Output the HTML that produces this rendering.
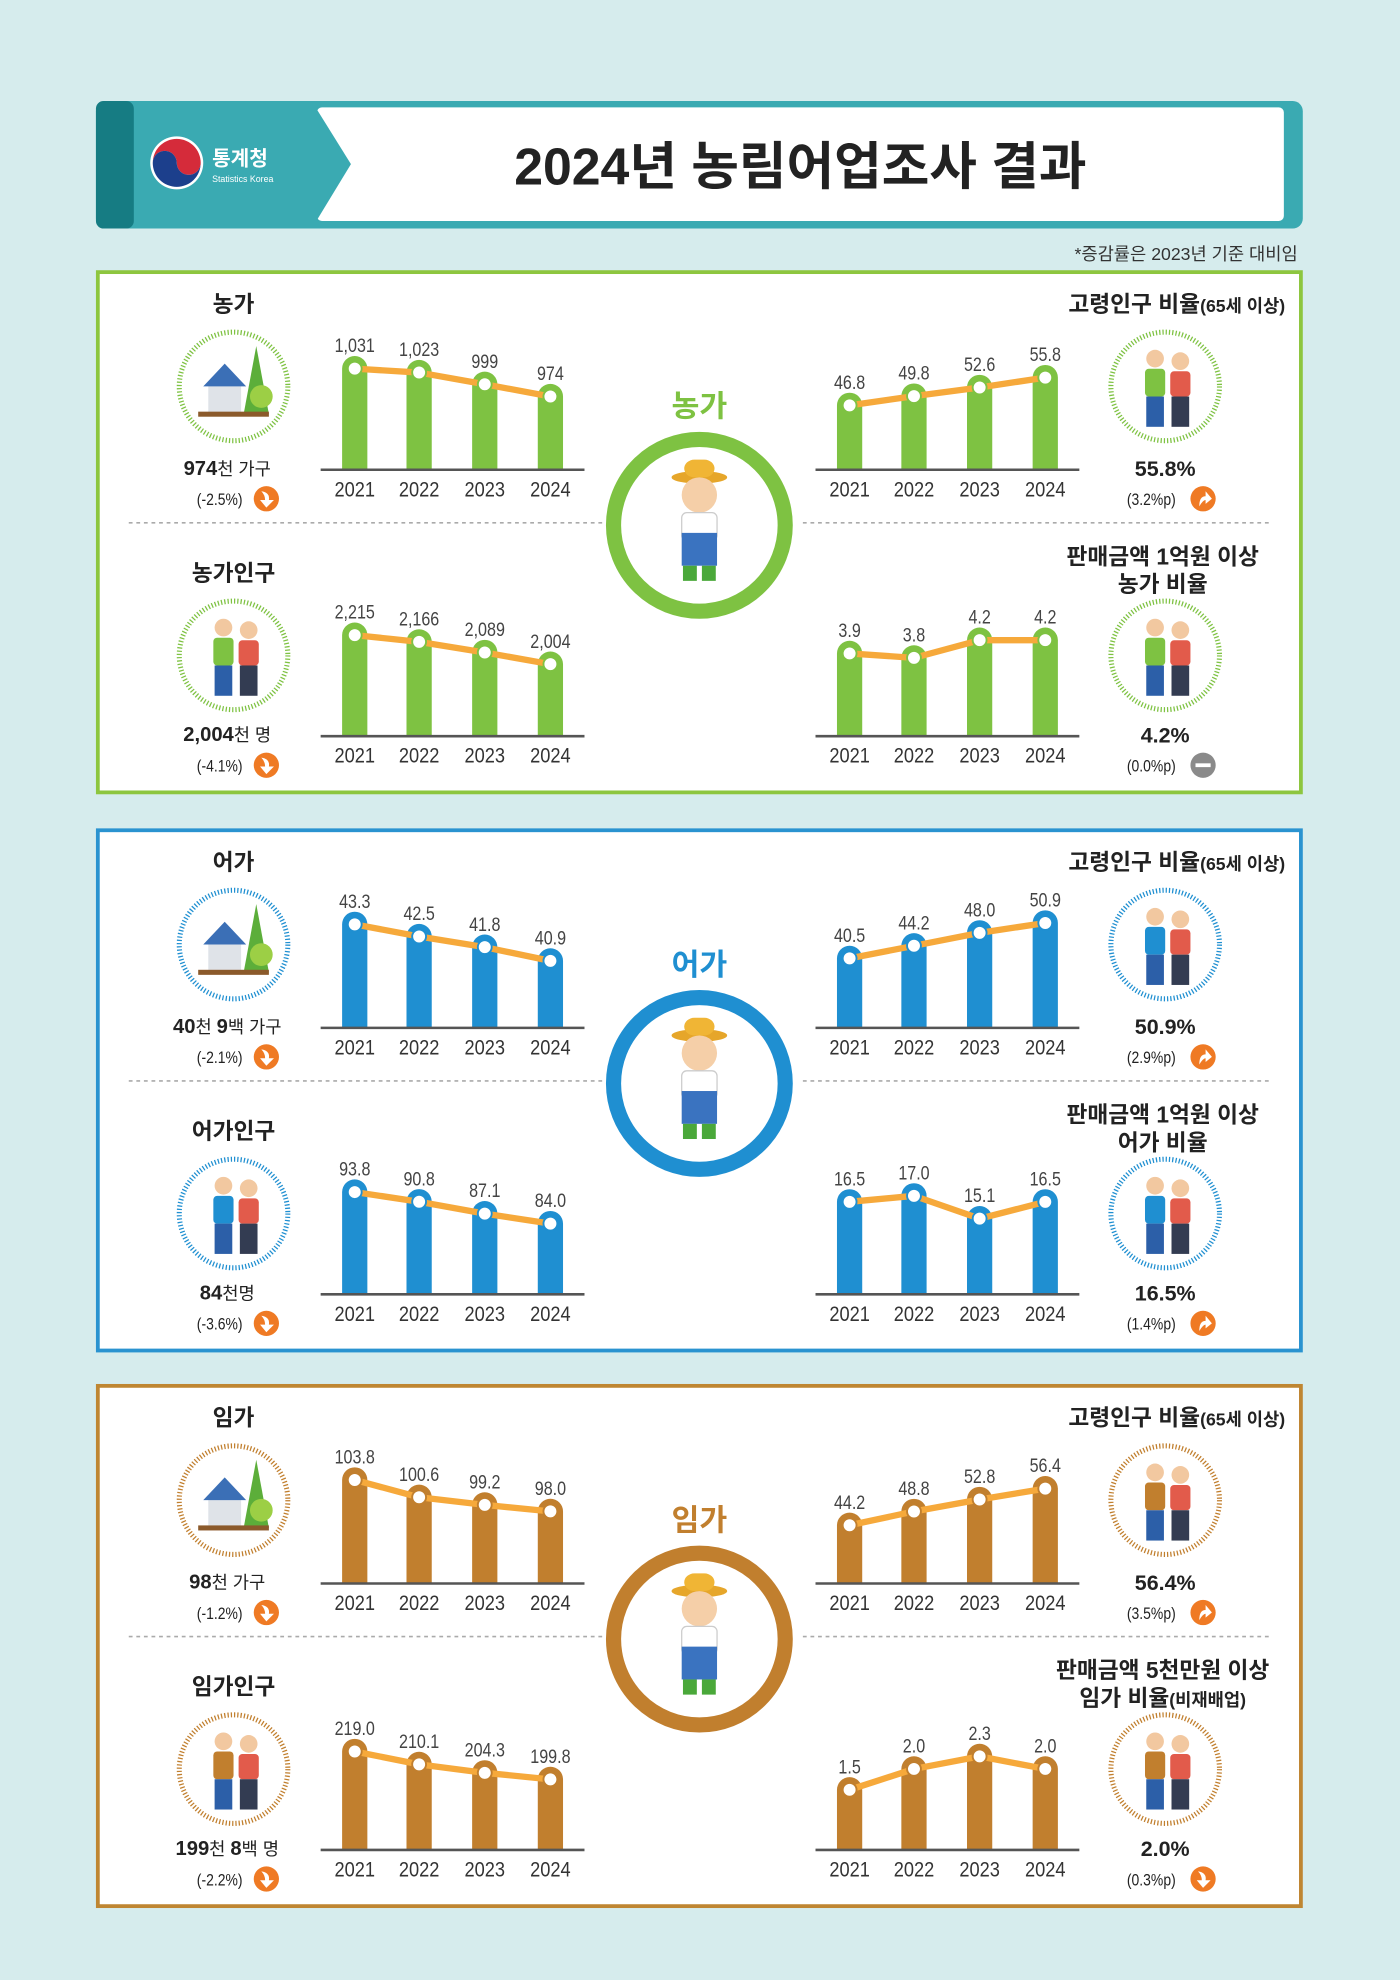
<!DOCTYPE html>
<html><head><meta charset="utf-8">
<style>
html,body{margin:0;padding:0;background:#d6eced;}
svg{display:block;font-family:"Liberation Sans","Noto Sans CJK KR",sans-serif;}
</style></head>
<body>
<svg id="page" width="1400" height="1980" viewBox="0 0 1109 1568" preserveAspectRatio="none" xmlns="http://www.w3.org/2000/svg">
<rect width="1109" height="1568" fill="#d6eced"/>
<g>
  <rect x="76" y="80" width="956" height="101" rx="8" fill="#3aaab2"/>
  <rect x="76" y="80" width="30" height="101" rx="6" fill="#167c83"/>
  <rect x="251" y="85" width="766" height="90" rx="4" fill="#ffffff"/>
  <polygon points="250,85 278,130 250,176" fill="#3aaab2"/>
  <g>
    <circle cx="140" cy="129" r="21" fill="#fff"/>
    <path d="M121,129 a19,19 0 0 1 38,0 a9.5,9.5 0 0 1 -19,0 a9.5,9.5 0 0 0 -19,0z" fill="#d52b3a"/>
    <path d="M121,129 a19,19 0 0 0 38,0 a9.5,9.5 0 0 1 -19,0 a9.5,9.5 0 0 0 -19,0z" fill="#1c3f8c"/>
    <text x="168" y="131" fill="#fff" font-size="16" font-weight="bold">통계청</text>
    <text x="168" y="144" fill="#fff" font-size="7">Statistics Korea</text>
  </g>
  <text x="634" y="146" text-anchor="middle" font-size="41" font-weight="bold" fill="#222">2024년 농림어업조사 결과</text>
</g>
<text x="1028" y="206" text-anchor="end" font-size="14" fill="#333">*증감률은 2023년 기준 대비임</text>
<g id="sections"></g>
</svg>
<script>
// ---- data ----
const years = ['2021','2022','2023','2024'];
const farmHouseholds = [1031, 1023, 999, 974];
const farmHouseholdLabels = ['1,031','1,023','999','974'];
const farmElderly = [46.8, 49.8, 52.6, 55.8];
const farmElderlyLabels = ['46.8','49.8','52.6','55.8'];
const farmPopulation = [2215, 2166, 2089, 2004];
const farmPopulationLabels = ['2,215','2,166','2,089','2,004'];
const farmSales = [3.9, 3.8, 4.2, 4.2];
const farmSalesLabels = ['3.9','3.8','4.2','4.2'];
const fishHouseholds = [43.3, 42.5, 41.8, 40.9];
const fishHouseholdLabels = ['43.3','42.5','41.8','40.9'];
const fishElderly = [40.5, 44.2, 48.0, 50.9];
const fishElderlyLabels = ['40.5','44.2','48.0','50.9'];
const fishPopulation = [93.8, 90.8, 87.1, 84.0];
const fishPopulationLabels = ['93.8','90.8','87.1','84.0'];
const fishSales = [16.5, 17.0, 15.1, 16.5];
const fishSalesLabels = ['16.5','17.0','15.1','16.5'];
const forestHouseholds = [103.8, 100.6, 99.2, 98.0];
const forestHouseholdLabels = ['103.8','100.6','99.2','98.0'];
const forestElderly = [44.2, 48.8, 52.8, 56.4];
const forestElderlyLabels = ['44.2','48.8','52.8','56.4'];
const forestPopulation = [219.0, 210.1, 204.3, 199.8];
const forestPopulationLabels = ['219.0','210.1','204.3','199.8'];
const forestSales = [1.5, 2.0, 2.3, 2.0];
const forestSalesLabels = ['1.5','2.0','2.3','2.0'];
// axis domains [min,max]
const farmHouseholdDomain = [824, 1036];
const farmElderlyDomain = [25.9, 59.5];
const farmPopulationDomain = [1481, 2233];
const farmSalesDomain = [2.03, 4.37];
const fishHouseholdDomain = [36.5, 43.3];
const fishElderlyDomain = [20.1, 50.5];
const fishPopulationDomain = [62.0, 94.2];
const fishSalesDomain = [8.8, 17.42];
const forestHouseholdDomain = [84.7, 103.8];
const forestElderlyDomain = [24.8, 59.3];
const forestPopulationDomain = [151.2, 222.5];
const forestSalesDomain = [0.06, 2.54];

const NS = 'http://www.w3.org/2000/svg';
function mk(tag, attrs, parent){
  const e = document.createElementNS(NS, tag);
  for (const k in attrs) e.setAttribute(k, attrs[k]);
  if (parent) parent.appendChild(e);
  return e;
}
function txt(parent, x, y, s, size, fill, anchor, weight, narrow){
  const t = mk('text', {x:x, y:y, 'font-size':size, fill:fill, 'text-anchor':anchor||'middle'}, parent);
  if (weight) t.setAttribute('font-weight', weight);
  if (narrow){
    t.setAttribute('x', 0); t.setAttribute('y', 0);
    t.setAttribute('transform', `translate(${x},${y}) scale(0.85,1)`);
  }
  t.textContent = s;
  return t;
}
const PLOT_H = 82;
function yScale(v, domain, axisY){ return axisY - (v - domain[0]) / (domain[1] - domain[0]) * PLOT_H; }

function drawChart(parent, name, x0, axisY, values, labels, domain, color){
  const g = mk('g', {}, parent);
  
  
  const xs = [x0+27, x0+78, x0+130, x0+182];
  const bw = 20;
  const pts = [];
  values.forEach((v, i) => {
    const y = yScale(v, domain, axisY);
    pts.push([xs[i], y]);
    const bar = mk('path', {d:`M${xs[i]-bw/2},${axisY} V${y} a${bw/2},${bw/2} 0 0 1 ${bw},0 V${axisY} Z`, fill:color}, g);
    
    
  });
  const axis = mk('line', {x1:x0, x2:x0+209, y1:axisY, y2:axisY, stroke:'#555', 'stroke-width':2}, g);
  
  
  const line = mk('polyline', {points: pts.map(p=>p.join(',')).join(' '), fill:'none', stroke:'#f6a93b', 'stroke-width':5, 'stroke-linejoin':'round'}, g);
  
  
  pts.forEach((p, i) => {
    const c = mk('circle', {cx:p[0], cy:p[1], r:5.5, fill:'#fff', stroke:color, 'stroke-width':1.5}, g);
    
    
    const l = txt(g, p[0], p[1]-13, labels[i], 15, '#444', 'middle', null, true);
    
    
    const yl = txt(g, xs[i], axisY+21, years[i], 17, '#333', 'middle', null, true);
    
    
  });
}

function icon(parent, name, cx, cy, color, kind){
  const g = mk('g', {}, parent);
  
  
  mk('circle', {cx:cx, cy:cy, r:43, fill:'#fff', stroke:color, 'stroke-width':4, 'stroke-dasharray':'1 1.6'}, g);
  if (kind === 'house'){
    mk('rect', {x:cx-20, y:cy-2, width:26, height:24, fill:'#dfe3e8'}, g);
    mk('polygon', {points:`${cx-24},${cy} ${cx-7},${cy-18} ${cx+10},${cy}`, fill:'#3b6fb6'}, g);
    mk('polygon', {points:`${cx+8},${cy+22} ${cx+18},${cy-32} ${cx+28},${cy+22}`, fill:'#5cae3a'}, g);
    mk('circle', {cx:cx+22, cy:cy+8, r:9, fill:'#9ccf45'}, g);
    mk('rect', {x:cx-28, y:cy+20, width:56, height:4, fill:'#8b5a2b'}, g);
  } else {
    mk('circle', {cx:cx-8, cy:cy-22, r:7, fill:'#f2c8a0'}, g);
    mk('circle', {cx:cx+12, cy:cy-20, r:7, fill:'#f2c8a0'}, g);
    mk('rect', {x:cx-16, y:cy-14, width:16, height:22, rx:3, fill:color}, g);
    mk('rect', {x:cx+4, y:cy-12, width:16, height:20, rx:3, fill:'#e25b4b'}, g);
    mk('rect', {x:cx-15, y:cy+8, width:14, height:24, fill:'#2c5fa8'}, g);
    mk('rect', {x:cx+5, y:cy+8, width:14, height:24, fill:'#333c52'}, g);
  }
}

function changeBadge(parent, name, x, y, kind){
  const g = mk('g', {}, parent);
  
  
  if (kind === 'flat'){
    mk('circle', {cx:x, cy:y, r:10, fill:'#8a8a8a'}, g);
    mk('rect', {x:x-6, y:y-1.5, width:12, height:3, fill:'#fff'}, g);
  } else {
    mk('circle', {cx:x, cy:y, r:10, fill:'#ef7a24'}, g);
    const d = kind === 'up' ? `M${x-3},${y+6} Q${x-3},${y-2} ${x+2},${y-2} L${x+2},${y-6} L${x+7},${y} L${x+2},${y+4} L${x+2},${y+1} Q${x},${y+1} ${x-3},${y+6}Z`
                            : `M${x-4},${y-6} Q${x+3},${y-5} ${x+2},${y+1} L${x+6},${y+1} L${x},${y+7} L${x-5},${y+1} L${x-1},${y+1} Q${x-1},${y-3} ${x-4},${y-6}Z`;
    mk('path', {d:d, fill:'#fff'}, g);
  }
}

function centerFigure(parent, name, cx, cy, color, label){
  const g = mk('g', {}, parent);
  
  
  txt(g, cx, cy-86, label, 24, color, 'middle', 'bold');
  mk('circle', {cx:cx, cy:cy, r:68, fill:'#fff', stroke:color, 'stroke-width':12}, g);
  mk('ellipse', {cx:cx, cy:cy-38, rx:22, ry:5, fill:'#e6a62a'}, g);
  mk('rect', {x:cx-12, y:cy-52, width:24, height:14, rx:8, fill:'#f0b535'}, g);
  mk('circle', {cx:cx, cy:cy-24, r:14, fill:'#f5cfa8'}, g);
  mk('rect', {x:cx-14, y:cy-10, width:28, height:22, rx:4, fill:'#fff', stroke:'#ccc'}, g);
  mk('rect', {x:cx-14, y:cy+6, width:28, height:26, fill:'#3a73c0'}, g);
  mk('rect', {x:cx-13, y:cy+32, width:11, height:12, fill:'#4aa83a'}, g);
  mk('rect', {x:cx+2, y:cy+32, width:11, height:12, fill:'#4aa83a'}, g);
}

const root = document.getElementById('sections');
const sections = [
  {key:'farm', top:214, color:'#7ec242', border:'#8dc63f', label:'농가',
   t1:'농가', v1:[['974','bold'],['천 가구','']], c1:'(-2.5%)', b1:'down',
   t3:'농가인구', v3:[['2,004','bold'],['천 명','']], c3:'(-4.1%)', b3:'down',
   rv1:'55.8%', rc1:'(3.2%p)', rb1:'up', rt2:['판매금액 1억원 이상','농가 비율',''], rv2:'4.2%', rc2:'(0.0%p)', rb2:'flat',
   charts:[[farmHouseholds,farmHouseholdLabels,farmHouseholdDomain],[farmElderly,farmElderlyLabels,farmElderlyDomain],[farmPopulation,farmPopulationLabels,farmPopulationDomain],[farmSales,farmSalesLabels,farmSalesDomain]]},
  {key:'fishery', top:656, color:'#1f8fd1', border:'#2a93d0', label:'어가',
   t1:'어가', v1:[['40','bold'],['천 ',''],['9','bold'],['백 가구','']], c1:'(-2.1%)', b1:'down',
   t3:'어가인구', v3:[['84','bold'],['천명','']], c3:'(-3.6%)', b3:'down',
   rv1:'50.9%', rc1:'(2.9%p)', rb1:'up', rt2:['판매금액 1억원 이상','어가 비율',''], rv2:'16.5%', rc2:'(1.4%p)', rb2:'up',
   charts:[[fishHouseholds,fishHouseholdLabels,fishHouseholdDomain],[fishElderly,fishElderlyLabels,fishElderlyDomain],[fishPopulation,fishPopulationLabels,fishPopulationDomain],[fishSales,fishSalesLabels,fishSalesDomain]]},
  {key:'forestry', top:1096, color:'#c17f2e', border:'#bf8632', label:'임가',
   t1:'임가', v1:[['98','bold'],['천 가구','']], c1:'(-1.2%)', b1:'down',
   t3:'임가인구', v3:[['199','bold'],['천 ',''],['8','bold'],['백 명','']], c3:'(-2.2%)', b3:'down',
   rv1:'56.4%', rc1:'(3.5%p)', rb1:'up', rt2:['판매금액 5천만원 이상','임가 비율','(비재배업)'], rv2:'2.0%', rc2:'(0.3%p)', rb2:'down',
   charts:[[forestHouseholds,forestHouseholdLabels,forestHouseholdDomain],[forestElderly,forestElderlyLabels,forestElderlyDomain],[forestPopulation,forestPopulationLabels,forestPopulationDomain],[forestSales,forestSalesLabels,forestSalesDomain]]}
];

sections.forEach(s => {
  const T = s.top;
  const g = mk('g', {}, root);
  
  
  mk('rect', {x:77.5, y:T+1.5, width:953, height:412, fill:'#fff', stroke:s.border, 'stroke-width':3}, g);
  mk('line', {x1:102, x2:478, y1:T+200, y2:T+200, stroke:'#aaa', 'stroke-width':1.3, 'stroke-dasharray':'3 3'}, g);
  mk('line', {x1:636, x2:1006, y1:T+200, y2:T+200, stroke:'#aaa', 'stroke-width':1.3, 'stroke-dasharray':'3 3'}, g);

  for (let row = 0; row < 2; row++){
    const off = row * 211;
    const title = txt(g, 185, T+33+off+(row?2:0), row ? s.t3 : s.t1, 18, '#222', 'middle', 'bold');
    
    
    icon(g, s.key + (row ? '-population-icon' : '-household-icon'), 185, T+92+off+(row?2:0), s.color, row ? 'person' : 'house');
    const vt = mk('text', {x:180, y:T+162+off, 'font-size':16, fill:'#222', 'text-anchor':'middle'}, g);
    
    
    (row ? s.v3 : s.v1).forEach(p => { const ts = mk('tspan', p[1] ? {'font-weight':'bold'} : {'font-size':14}, vt); ts.textContent = p[0]; });
    txt(g, 174, T+186+off, row ? s.c3 : s.c1, 13, '#222', 'middle', null, true);
    changeBadge(g, s.key + (row ? '-population-change-icon' : '-household-change-icon'), 211, T+181+off, row ? s.b3 : s.b1);
    const cL = s.charts[row*2], cR = s.charts[row*2+1];
    drawChart(g, s.key + (row ? '-population-chart' : '-household-chart'), 254, T+158+off, cL[0], cL[1], cL[2], s.color);
    drawChart(g, s.key + (row ? '-sales-ratio-chart' : '-elderly-ratio-chart'), 646, T+158+off, cR[0], cR[1], cR[2], s.color);
    if (row === 0){
      const rt = mk('text', {x:1018, y:T+33, 'font-size':18, fill:'#222', 'text-anchor':'end', 'font-weight':'bold'}, g);
      
      
      const a = mk('tspan', {}, rt); a.textContent = '고령인구 비율';
      const b = mk('tspan', {'font-size':14}, rt); b.textContent = '(65세 이상)';
    } else {
      const l1 = txt(g, 921, T+22+off, s.rt2[0], 18, '#222', 'middle', 'bold');
      
      
      const l2 = mk('text', {x:921, y:T+44+off, 'font-size':18, fill:'#222', 'text-anchor':'middle', 'font-weight':'bold'}, g);
      const a2 = mk('tspan', {}, l2); a2.textContent = s.rt2[1];
      if (s.rt2[2]) { const b2 = mk('tspan', {'font-size':14}, l2); b2.textContent = s.rt2[2]; }
    }
    icon(g, s.key + (row ? '-sales-icon' : '-elderly-icon'), 923, T+92+off+(row?2:0), s.color, 'person');
    const rv = txt(g, 923, T+163+off, row ? s.rv2 : s.rv1, 17, '#222', 'middle', 'bold');
    
    
    txt(g, 912, T+186+off, row ? s.rc2 : s.rc1, 13, '#222', 'middle', null, true);
    changeBadge(g, s.key + (row ? '-sales-change-icon' : '-elderly-change-icon'), 953, T+181+off, row ? s.rb2 : s.rb1);
  }
  centerFigure(g, s.key + '-center-figure', 554, T+202, s.color, s.label);
});
</script>
</body></html>
